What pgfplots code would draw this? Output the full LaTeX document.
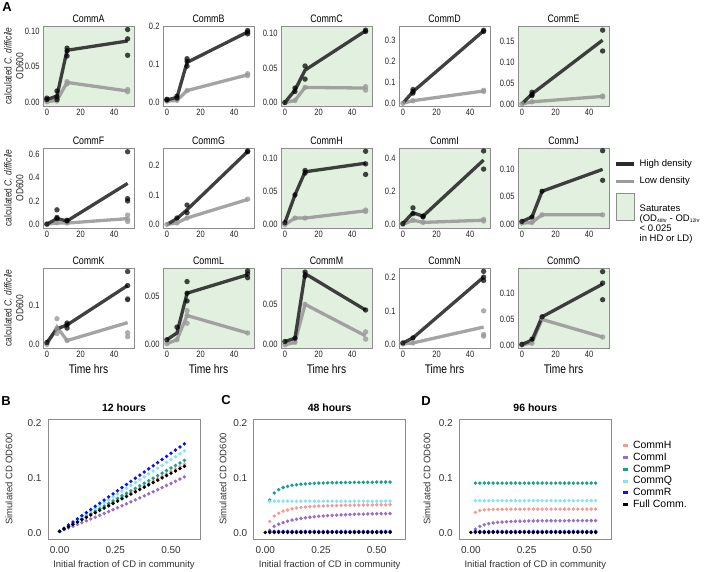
\documentclass[border=0pt]{standalone}
\usepackage{fontspec}
\setmainfont{Liberation Sans}
\newfontfamily\nfont{Liberation Sans}[FakeStretch=0.82]
\usepackage{pgfplots}
\usepackage{pgfplotstable}
\pgfplotsset{compat=1.18}

\definecolor{hdc}{HTML}{2B2B2B}
\definecolor{ldc}{HTML}{9A9A9A}
\definecolor{satg}{HTML}{E2F0E0}
\definecolor{frm}{HTML}{8C8C8C}
\definecolor{cH}{HTML}{F79A94}
\definecolor{cI}{HTML}{9B6BCB}
\definecolor{cP}{HTML}{18A093}
\definecolor{cQ}{HTML}{86E3F2}
\definecolor{cR}{HTML}{0A14F0}
\definecolor{cF}{HTML}{000000}

\pgfplotstableread{
x H I P Q R F
0.00 0.0030 0.0030 0.0030 0.0030 0.0030 0.0030
0.02 0.0074 0.0061 0.0076 0.0082 0.0087 0.0072
0.04 0.0118 0.0093 0.0122 0.0135 0.0144 0.0115
0.06 0.0161 0.0124 0.0169 0.0187 0.0201 0.0157
0.08 0.0205 0.0157 0.0215 0.0240 0.0258 0.0200
0.10 0.0249 0.0189 0.0261 0.0292 0.0315 0.0242
0.12 0.0293 0.0222 0.0307 0.0344 0.0372 0.0284
0.14 0.0337 0.0255 0.0353 0.0397 0.0429 0.0327
0.16 0.0380 0.0288 0.0400 0.0449 0.0486 0.0369
0.18 0.0424 0.0322 0.0446 0.0502 0.0543 0.0412
0.20 0.0468 0.0356 0.0492 0.0554 0.0600 0.0454
0.22 0.0512 0.0390 0.0538 0.0606 0.0657 0.0496
0.24 0.0556 0.0425 0.0584 0.0659 0.0714 0.0539
0.26 0.0599 0.0460 0.0631 0.0711 0.0771 0.0581
0.28 0.0643 0.0495 0.0677 0.0764 0.0828 0.0624
0.30 0.0687 0.0531 0.0723 0.0816 0.0885 0.0666
0.32 0.0731 0.0567 0.0769 0.0868 0.0942 0.0708
0.34 0.0775 0.0603 0.0815 0.0921 0.0999 0.0751
0.36 0.0818 0.0640 0.0862 0.0973 0.1056 0.0793
0.38 0.0862 0.0677 0.0908 0.1026 0.1113 0.0836
0.40 0.0906 0.0714 0.0954 0.1078 0.1170 0.0878
0.42 0.0950 0.0752 0.1000 0.1130 0.1227 0.0920
0.44 0.0994 0.0789 0.1046 0.1183 0.1284 0.0963
0.46 0.1037 0.0828 0.1093 0.1235 0.1341 0.1005
0.48 0.1081 0.0866 0.1139 0.1288 0.1398 0.1048
0.50 0.1125 0.0905 0.1185 0.1340 0.1455 0.1090
0.52 0.1169 0.0944 0.1231 0.1392 0.1512 0.1132
0.54 0.1213 0.0984 0.1277 0.1445 0.1569 0.1175
0.56 0.1256 0.1023 0.1324 0.1497 0.1626 0.1217
}\tabB

\pgfplotstableread{
x H I P Q R F
0.00 nan nan nan nan nan 0.0010
0.02 0.0210 0.0050 0.0600 0.0575 0.0028 0.0010
0.04 0.0310 0.0120 0.0730 0.0580 0.0028 0.0010
0.06 0.0360 0.0160 0.0790 0.0580 0.0028 0.0010
0.08 0.0400 0.0190 0.0830 0.0580 0.0028 0.0010
0.10 0.0420 0.0215 0.0850 0.0580 0.0028 0.0010
0.12 0.0440 0.0235 0.0870 0.0580 0.0028 0.0010
0.14 0.0455 0.0250 0.0880 0.0580 0.0028 0.0010
0.16 0.0465 0.0265 0.0890 0.0580 0.0028 0.0010
0.18 0.0473 0.0277 0.0895 0.0580 0.0028 0.0010
0.20 0.0480 0.0287 0.0900 0.0580 0.0028 0.0010
0.22 0.0485 0.0296 0.0905 0.0580 0.0028 0.0010
0.24 0.0490 0.0304 0.0910 0.0580 0.0028 0.0010
0.26 0.0493 0.0310 0.0912 0.0580 0.0028 0.0010
0.28 0.0496 0.0316 0.0915 0.0580 0.0028 0.0010
0.30 0.0499 0.0321 0.0917 0.0580 0.0028 0.0010
0.32 0.0501 0.0326 0.0919 0.0580 0.0028 0.0010
0.34 0.0503 0.0330 0.0920 0.0580 0.0028 0.0010
0.36 0.0505 0.0334 0.0921 0.0580 0.0028 0.0010
0.38 0.0507 0.0337 0.0922 0.0580 0.0028 0.0010
0.40 0.0508 0.0340 0.0923 0.0580 0.0028 0.0010
0.42 0.0509 0.0343 0.0924 0.0580 0.0028 0.0010
0.44 0.0510 0.0345 0.0925 0.0580 0.0028 0.0010
0.46 0.0511 0.0347 0.0926 0.0580 0.0028 0.0010
0.48 0.0512 0.0349 0.0927 0.0580 0.0028 0.0010
0.50 0.0513 0.0351 0.0928 0.0580 0.0028 0.0010
0.52 0.0514 0.0352 0.0929 0.0580 0.0028 0.0010
0.54 0.0514 0.0354 0.0930 0.0580 0.0028 0.0010
0.56 0.0515 0.0355 0.0930 0.0580 0.0028 0.0010
}\tabC

\pgfplotstableread{
x H I P Q R F
0.00 nan nan nan nan nan 0.0010
0.02 0.0375 0.0070 0.0910 0.0590 0.0028 0.0010
0.04 0.0410 0.0120 0.0910 0.0590 0.0028 0.0010
0.06 0.0422 0.0150 0.0910 0.0590 0.0028 0.0010
0.08 0.0427 0.0170 0.0910 0.0590 0.0028 0.0010
0.10 0.0430 0.0183 0.0910 0.0590 0.0028 0.0010
0.12 0.0431 0.0193 0.0910 0.0590 0.0028 0.0010
0.14 0.0432 0.0200 0.0910 0.0590 0.0028 0.0010
0.16 0.0433 0.0205 0.0910 0.0590 0.0028 0.0010
0.18 0.0433 0.0209 0.0910 0.0590 0.0028 0.0010
0.20 0.0434 0.0212 0.0910 0.0590 0.0028 0.0010
0.22 0.0434 0.0215 0.0910 0.0590 0.0028 0.0010
0.24 0.0434 0.0217 0.0910 0.0590 0.0028 0.0010
0.26 0.0435 0.0219 0.0910 0.0590 0.0028 0.0010
0.28 0.0435 0.0220 0.0910 0.0590 0.0028 0.0010
0.30 0.0435 0.0221 0.0910 0.0590 0.0028 0.0010
0.32 0.0435 0.0222 0.0910 0.0590 0.0028 0.0010
0.34 0.0435 0.0222 0.0910 0.0590 0.0028 0.0010
0.36 0.0435 0.0223 0.0910 0.0590 0.0028 0.0010
0.38 0.0435 0.0223 0.0910 0.0590 0.0028 0.0010
0.40 0.0435 0.0224 0.0910 0.0590 0.0028 0.0010
0.42 0.0435 0.0224 0.0910 0.0590 0.0028 0.0010
0.44 0.0435 0.0224 0.0910 0.0590 0.0028 0.0010
0.46 0.0435 0.0225 0.0910 0.0590 0.0028 0.0010
0.48 0.0435 0.0225 0.0910 0.0590 0.0028 0.0010
0.50 0.0435 0.0225 0.0910 0.0590 0.0028 0.0010
0.52 0.0435 0.0225 0.0910 0.0590 0.0028 0.0010
0.54 0.0435 0.0225 0.0910 0.0590 0.0028 0.0010
0.56 0.0435 0.0225 0.0910 0.0590 0.0028 0.0010
}\tabD

\pgfplotsset{
  pA/.style={scale only axis, width=91pt, height=80pt, anchor=north west,
    xmin=-2.3, xmax=51.8, xtick={0,20,40}, xticklabels={0,20,40},
    scaled y ticks=false,
    axis line style={draw=frm, line width=0.9pt},
    major tick length=0pt,
    tick label style={font=\nfont\fontsize{9.2}{10}\selectfont, text=black!85},
    every axis title/.style={at={(0.5,1)}, anchor=south, font=\nfont\fontsize{10.8}{11}\selectfont},
    every axis y label/.style={at={(axis description cs:-0.32,0.5)}, anchor=center, rotate=90, align=center, font=\nfont\fontsize{10.3}{11.8}\selectfont, text=black!85},
    every axis x label/.style={at={(axis description cs:0.5,0)}, anchor=north, yshift=-12.5pt, font=\nfont\fontsize{12.5}{13}\selectfont},
  },
  sat/.style={axis background/.style={fill=satg}},
  hd/.style={no marks, hdc, line width=3.3pt, opacity=0.9, forget plot},
  ld/.style={no marks, ldc, line width=3.3pt, opacity=0.9, forget plot},
  hdp/.style={only marks, mark=*, mark size=2.7pt, mark options={fill=black, fill opacity=0.72, draw opacity=0}, forget plot},
  ldp/.style={only marks, mark=*, mark size=2.7pt, mark options={fill=ldc, fill opacity=0.8, draw opacity=0}, forget plot},
  pB/.style={scale only axis, width=152pt, height=120pt, anchor=north west,
    xmin=-0.052, xmax=0.63, ymin=-0.011, ymax=0.208,
    xtick={0,0.25,0.5}, xticklabels={0.00,0.25,0.50},
    ytick={0,0.1,0.2}, yticklabels={0.0,0.1,0.2},
    scaled y ticks=false,
    axis line style={draw=frm, line width=0.9pt},
    major tick length=0pt,
    tick label style={font=\fontsize{10}{11}\selectfont, text=black!80},
    xticklabel style={yshift=-4pt}, yticklabel style={xshift=-3pt},
    every axis title/.style={at={(0.5,1)}, anchor=south, yshift=4pt, font=\bfseries\fontsize{10.5}{11}\selectfont},
    xlabel={Initial fraction of CD in community},
    ylabel={Simulated CD OD600},
    label style={font=\fontsize{9.5}{10}\selectfont, text=black!80},
  },
  sd/.style={only marks, mark=*, mark size=1.9pt, mark options={fill=#1, draw opacity=0}, forget plot},
}

\newcommand{\panelA}[8]{%
\begin{axis}[pA, at={(#1pt,#2pt)}, title={#3}, #4]
\addplot[ld] coordinates {#7};
\addplot[hd] coordinates {#5};
\addplot[ldp] coordinates {#8};
\addplot[hdp] coordinates {#6};
\end{axis}}

\newcommand{\tsub}[1]{\raisebox{-1.2pt}{\fontsize{5}{5}\selectfont #1}}

\begin{document}
\begin{tikzpicture}
% ---------------- Row 1
\panelA{43}{546}{CommA}{sat, ymin=-0.005, ymax=0.107, ytick={0,0.05,0.1}, yticklabels={0.00,0.05,0.10}, ylabel={calculated \textit{C. difficile}\\OD600}}
{(0,0.004)(6,0.009)(12,0.073)(48,0.086)}
{(0,0.004)(0,0.006)(6,0.016)(6,0.008)(6,0.004)(12,0.076)(12,0.072)(12,0.065)(48,0.102)(48,0.089)(48,0.066)}
{(0,0.001)(6,0.003)(12,0.028)(48,0.016)}
{(0,0.001)(0,0.002)(6,0.002)(6,0.004)(12,0.029)(12,0.026)(48,0.018)(48,0.015)}

\panelA{163}{546}{CommB}{ymin=-0.011, ymax=0.202, ytick={0,0.1,0.2}, yticklabels={0.0,0.1,0.2}}
{(0,0.005)(6,0.012)(12,0.105)(48,0.186)}
{(0,0.005)(0,0.007)(6,0.015)(6,0.010)(12,0.115)(12,0.108)(12,0.095)(48,0.190)(48,0.186)(48,0.181)}
{(0,0.002)(6,0.004)(12,0.030)(48,0.072)}
{(0,0.002)(6,0.004)(12,0.030)(48,0.075)(48,0.070)}

\panelA{281}{546}{CommC}{sat, ymin=-0.005, ymax=0.111, ytick={0,0.05,0.1}, yticklabels={0.00,0.05,0.10}}
{(0,0.000)(6,0.018)(12,0.047)(48,0.104)}
{(0,0.000)(6,0.021)(6,0.016)(12,0.053)(12,0.034)(48,0.105)(48,0.103)}
{(0,0.000)(6,0.003)(12,0.022)(48,0.021)}
{(0,0.000)(6,0.003)(12,0.022)(48,0.023)(48,0.018)}

\panelA{399}{546}{CommD}{ymin=-0.013, ymax=0.366, ytick={0,0.1,0.2,0.3}, yticklabels={0.0,0.1,0.2,0.3}}
{(0,0.000)(6,0.055)(48,0.343)}
{(6,0.065)(6,0.055)(6,0.048)(48,0.346)(48,0.340)}
{(0,0.000)(6,0.012)(48,0.058)}
{(0,0.000)(6,0.012)(48,0.061)(48,0.056)}

\panelA{518}{546}{CommE}{sat, ymin=-0.005, ymax=0.187, ytick={0,0.05,0.1,0.15}, yticklabels={0.00,0.05,0.10,0.15}}
{(0,0.000)(6,0.024)(48,0.153)}
{(6,0.028)(6,0.022)(6,0.020)(48,0.177)(48,0.127)}
{(0,0.000)(6,0.005)(48,0.018)}
{(0,0.000)(6,0.005)(48,0.019)(48,0.017)}

% ---------------- Row 2
\panelA{43}{424}{CommF}{ymin=-0.03, ymax=0.652, ytick={0,0.2,0.4,0.6}, yticklabels={0.0,0.2,0.4,0.6}, ylabel={calculated \textit{C. difficile}\\OD600}}
{(0,0.003)(6,0.050)(12,0.030)(48,0.350)}
{(0,0.003)(6,0.125)(6,0.060)(6,0.050)(12,0.035)(12,0.030)(48,0.620)(48,0.220)(48,0.200)}
{(0,0.003)(6,0.012)(12,0.012)(48,0.050)}
{(0,0.003)(6,0.015)(12,0.012)(48,0.080)(48,0.045)(48,0.025)}

\panelA{163}{424}{CommG}{ymin=-0.012, ymax=0.26, ytick={0,0.1,0.2}, yticklabels={0.0,0.1,0.2}}
{(0,0.000)(6,0.020)(12,0.050)(48,0.248)}
{(6,0.022)(12,0.066)(12,0.040)(48,0.250)(48,0.247)}
{(0,0.000)(6,0.005)(12,0.022)(48,0.085)}
{(0,0.000)(6,0.005)(12,0.022)(48,0.086)}

\panelA{281}{424}{CommH}{sat, ymin=-0.005, ymax=0.116, ytick={0,0.05,0.1}, yticklabels={0.00,0.05,0.10}}
{(0,0.003)(6,0.045)(12,0.080)(48,0.093)}
{(0,0.003)(6,0.045)(12,0.082)(12,0.078)(48,0.111)(48,0.092)(48,0.076)}
{(0,0.000)(6,0.010)(12,0.010)(48,0.021)}
{(0,0.000)(6,0.010)(12,0.010)(48,0.022)(48,0.020)}

\panelA{399}{424}{CommI}{sat, ymin=-0.022, ymax=0.463, ytick={0,0.2,0.4}, yticklabels={0.0,0.2,0.4}}
{(0,0.005)(6,0.070)(12,0.050)(48,0.390)}
{(0,0.005)(6,0.100)(6,0.065)(12,0.050)(12,0.045)(48,0.445)(48,0.335)}
{(0,0.000)(6,0.025)(12,0.012)(48,0.025)}
{(0,0.000)(6,0.025)(12,0.012)(48,0.030)(48,0.020)}

\begin{axis}[pA, at={(518pt,424pt)}, title={CommJ}, sat, ymin=-0.007, ymax=0.139, ytick={0,0.05,0.1}, yticklabels={0.00,0.05,0.10},
  legend style={at={(1.06,0.875)}, anchor=north west, draw=none, fill=none, font=\fontsize{9.5}{10}\selectfont, row sep=6pt, column sep=2pt, inner sep=0pt, nodes={inner sep=1.5pt}},
  legend cell align=left]
\addplot[ld] coordinates {(0,0.002)(6,0.003)(12,0.017)(48,0.017)};
\addplot[hd] coordinates {(0,0.005)(6,0.013)(12,0.060)(48,0.100)};
\addplot[ldp] coordinates {(0,0.002)(6,0.003)(12,0.017)(48,0.017)};
\addplot[hdp] coordinates {(0,0.005)(6,0.013)(12,0.060)(48,0.134)(48,0.080)};
\addlegendimage{legend image code/.code={\draw[hdc, line width=3.5pt] (0pt,0pt) -- (18pt,0pt);}}
\addlegendentry{High density}
\addlegendimage{legend image code/.code={\draw[ldc, line width=3.5pt] (0pt,0pt) -- (18pt,0pt);}}
\addlegendentry{Low density}
\addlegendimage{legend image code/.code={\draw[fill=satg, draw=frm, line width=0.8pt] (0pt,-4pt) rectangle (18pt,23pt);}}
\addlegendentry{\begin{tabular}{@{}l@{}}Saturates\\(OD\tsub{48hr} - OD\tsub{12hr}\\< 0.025\\in HD or LD)\end{tabular}}
\end{axis}

% ---------------- Row 3
\panelA{43}{304}{CommK}{ymin=-0.009, ymax=0.196, ytick={0,0.1}, yticklabels={0.0,0.1}, ylabel={calculated \textit{C. difficile}\\OD600}, xlabel={Time hrs}}
{(0,0.005)(6,0.040)(12,0.050)(48,0.151)}
{(0,0.005)(12,0.055)(12,0.050)(12,0.042)(48,0.187)(48,0.151)(48,0.115)}
{(0,0.000)(6,0.045)(12,0.010)(48,0.056)}
{(0,0.000)(6,0.066)(6,0.040)(6,0.028)(12,0.010)(48,0.118)(48,0.030)(48,0.020)}

\panelA{163}{304}{CommL}{sat, ymin=-0.0035, ymax=0.079, ytick={0,0.05}, yticklabels={0.00,0.05}, xlabel={Time hrs}}
{(0,0.005)(6,0.012)(12,0.053)(48,0.072)}
{(0,0.005)(6,0.018)(12,0.065)(12,0.053)(12,0.045)(48,0.076)(48,0.073)(48,0.069)}
{(0,0.001)(6,0.005)(12,0.030)(48,0.012)}
{(0,0.001)(6,0.005)(12,0.035)(12,0.030)(12,0.022)(48,0.012)}

\panelA{281}{304}{CommM}{sat, ymin=-0.004, ymax=0.095, ytick={0,0.05}, yticklabels={0.00,0.05}, xlabel={Time hrs}}
{(0,0.004)(6,0.008)(12,0.088)(48,0.043)}
{(0,0.004)(6,0.008)(12,0.090)(12,0.085)(48,0.043)}
{(0,0.000)(6,0.003)(12,0.050)(48,0.011)}
{(0,0.000)(6,0.003)(12,0.050)(48,0.016)(48,0.007)}

\panelA{399}{304}{CommN}{ymin=-0.01, ymax=0.227, ytick={0,0.1,0.2}, yticklabels={0.0,0.1,0.2}, xlabel={Time hrs}}
{(0,0.005)(6,0.020)(48,0.200)}
{(0,0.005)(6,0.020)(48,0.217)(48,0.200)(48,0.190)}
{(0,0.002)(6,0.005)(48,0.052)}
{(0,0.002)(6,0.005)(48,0.100)(48,0.030)(48,0.025)}

\panelA{518}{304}{CommO}{sat, ymin=-0.005, ymax=0.149, ytick={0,0.05,0.1}, yticklabels={0.00,0.05,0.10}, xlabel={Time hrs}}
{(0,0.002)(6,0.010)(12,0.055)(48,0.118)}
{(0,0.002)(6,0.012)(12,0.055)(48,0.142)(48,0.120)(48,0.088)}
{(0,0.001)(6,0.005)(12,0.050)(48,0.016)}
{(0,0.001)(6,0.004)(12,0.052)(48,0.016)}

% ---------------- Panels B, C, D
\begin{axis}[pB, at={(48pt,153pt)}, title={12 hours},
  ylabel style={at={(axis description cs:-0.257,0.5)}, anchor=center}]
\addplot[sd=cH] table[x=x,y=H] {\tabB};
\addplot[sd=cI] table[x=x,y=I] {\tabB};
\addplot[sd=cP] table[x=x,y=P] {\tabB};
\addplot[sd=cQ] table[x=x,y=Q] {\tabB};
\addplot[sd=cR] table[x=x,y=R] {\tabB};
\addplot[sd=cF] table[x=x,y=F] {\tabB};
\end{axis}

\begin{axis}[pB, at={(253.7pt,153pt)}, title={48 hours},
  ylabel style={at={(axis description cs:-0.202,0.5)}, anchor=center}]
\addplot[sd=cH] table[x=x,y=H] {\tabC};
\addplot[sd=cI] table[x=x,y=I] {\tabC};
\addplot[sd=cP] table[x=x,y=P] {\tabC};
\addplot[sd=cQ] table[x=x,y=Q] {\tabC};
\addplot[sd=cR] table[x=x,y=R] {\tabC};
\addplot[sd=cF] table[x=x,y=F] {\tabC};
\end{axis}

\begin{axis}[pB, at={(459.3pt,153pt)}, title={96 hours},
  ylabel style={at={(axis description cs:-0.212,0.5)}, anchor=center},
  legend style={at={(1.066,0.83)}, anchor=north west, draw=none, fill=none, font=\fontsize{10.5}{11}\selectfont, row sep=0pt, column sep=2pt, inner sep=0pt, nodes={inner sep=1.5pt}},
  legend cell align=left]
\addplot[sd=cH] table[x=x,y=H] {\tabD};
\addplot[sd=cI] table[x=x,y=I] {\tabD};
\addplot[sd=cP] table[x=x,y=P] {\tabD};
\addplot[sd=cQ] table[x=x,y=Q] {\tabD};
\addplot[sd=cR] table[x=x,y=R] {\tabD};
\addplot[sd=cF] table[x=x,y=F] {\tabD};
\addlegendimage{legend image code/.code={\draw[cH, line width=3pt] (0pt,0pt) -- (5pt,0pt);}}
\addlegendentry{CommH}
\addlegendimage{legend image code/.code={\draw[cI, line width=3pt] (0pt,0pt) -- (5pt,0pt);}}
\addlegendentry{CommI}
\addlegendimage{legend image code/.code={\draw[cP, line width=3pt] (0pt,0pt) -- (5pt,0pt);}}
\addlegendentry{CommP}
\addlegendimage{legend image code/.code={\draw[cQ, line width=3pt] (0pt,0pt) -- (5pt,0pt);}}
\addlegendentry{CommQ}
\addlegendimage{legend image code/.code={\draw[cR, line width=3pt] (0pt,0pt) -- (5pt,0pt);}}
\addlegendentry{CommR}
\addlegendimage{legend image code/.code={\draw[cF, line width=3pt] (0pt,0pt) -- (5pt,0pt);}}
\addlegendentry{Full Comm.}
\end{axis}

% panel letters
\node[font=\bfseries\fontsize{13}{13}\selectfont] at (7pt,565pt) {A};
\node[font=\bfseries\fontsize{13}{13}\selectfont] at (6pt,171pt) {B};
\node[font=\bfseries\fontsize{13}{13}\selectfont] at (226pt,172pt) {C};
\node[font=\bfseries\fontsize{13}{13}\selectfont] at (426pt,171pt) {D};

\pgfresetboundingbox
\path[use as bounding box] (0pt,0pt) rectangle (705pt,572pt);
\end{tikzpicture}
\end{document}
